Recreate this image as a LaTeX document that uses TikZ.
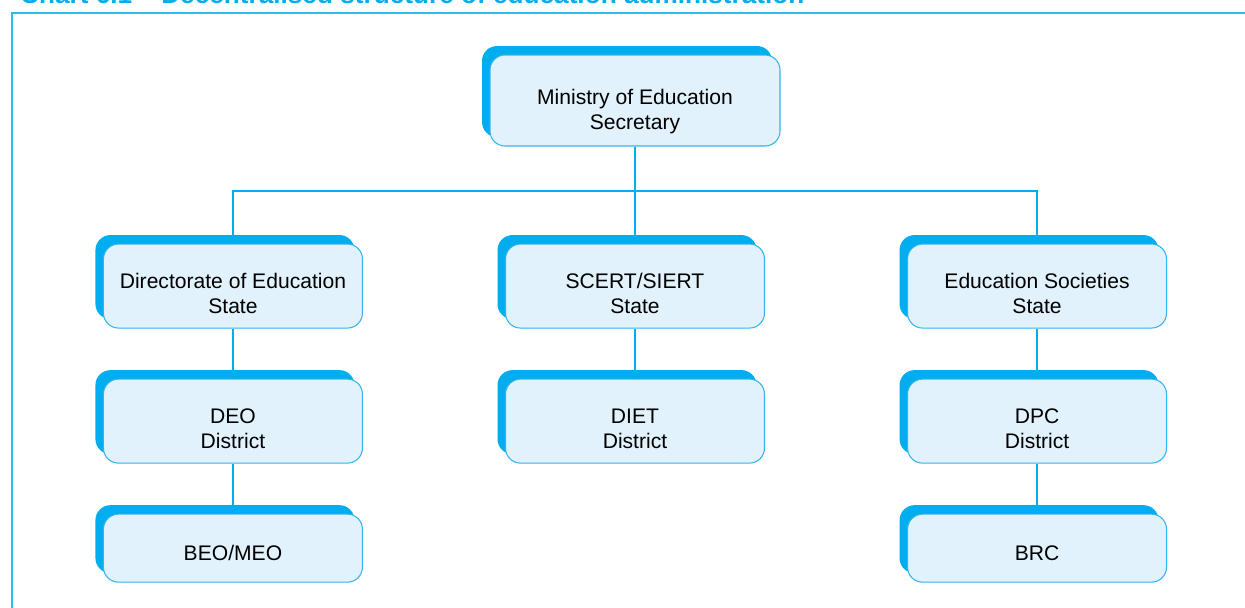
\documentclass[tikz,border=0pt]{standalone}
\usepackage{fontspec}
\setmainfont{Liberation Sans}
\usepackage{tikz}
\usetikzlibrary{positioning, shadows}
\definecolor{chartblue}{RGB}{0,174,239}
\definecolor{boxfill}{RGB}{225,242,252}
\definecolor{boxline}{RGB}{50,180,236}
\definecolor{framecol}{RGB}{40,190,240}
\newcommand{\lift}[1][17pt]{\rule{0pt}{#1}}
\tikzset{
  orgbox/.style={draw=boxline, line width=0.6pt, fill=boxfill, rounded corners=0.3cm,
    minimum width=5.18cm, minimum height=1.68cm, align=center,
    font=\fontsize{12}{14.2}\selectfont,
    general shadow={fill=chartblue, shadow xshift=-0.16cm, shadow yshift=0.18cm}},
  link/.style={draw=chartblue, line width=1.1pt}
}
\begin{document}
\begin{tikzpicture}
\useasboundingbox (0,0) rectangle (24.9,-12.14);
\node[anchor=base west, text=chartblue, font=\fontsize{14.9}{16}\selectfont\bfseries] (title) at (0.28,-0.07) {Chart 6.1 -- Decentralised structure of education administration};
\draw[framecol, line width=0.8pt] (0.24,-13) -- (0.24,-0.26) -- (26,-0.26);
\node[orgbox, minimum width=5.8cm, minimum height=1.82cm] (MIN) at (12.7,-2.01) {\lift[21.5pt]Ministry of Education\\Secretary};
\node[orgbox] (SCERT) [below=1.94cm of MIN] {\lift SCERT/SIERT\\State};
\node[orgbox] (DOE) [left=2.84cm of SCERT] {\lift Directorate of Education\\State};
\node[orgbox] (ES) [right=2.84cm of SCERT] {\lift Education Societies\\State};
\node[orgbox] (DEO) [below=1.0cm of DOE] {\lift DEO\\District};
\node[orgbox] (DIET) [below=1.0cm of SCERT] {\lift DIET\\District};
\node[orgbox] (DPC) [below=1.0cm of ES] {\lift DPC\\District};
\node[orgbox, minimum height=1.36cm] (BEO) [below=1.0cm of DEO] {\lift[14.5pt]BEO/MEO};
\node[orgbox, minimum height=1.36cm] (BRC) [below=1.0cm of DPC] {\lift[14.5pt]BRC};
\draw[link] (MIN.south) -- ++(0,-0.88) coordinate (J);
\draw[link] (DOE.north) |- (J) -| (ES.north);
\draw[link] (J) -- (SCERT.north);
\draw[link] (DOE) -- (DEO);
\draw[link] (DEO) -- (BEO);
\draw[link] (SCERT) -- (DIET);
\draw[link] (ES) -- (DPC);
\draw[link] (DPC) -- (BRC);
\end{tikzpicture}
\end{document}
